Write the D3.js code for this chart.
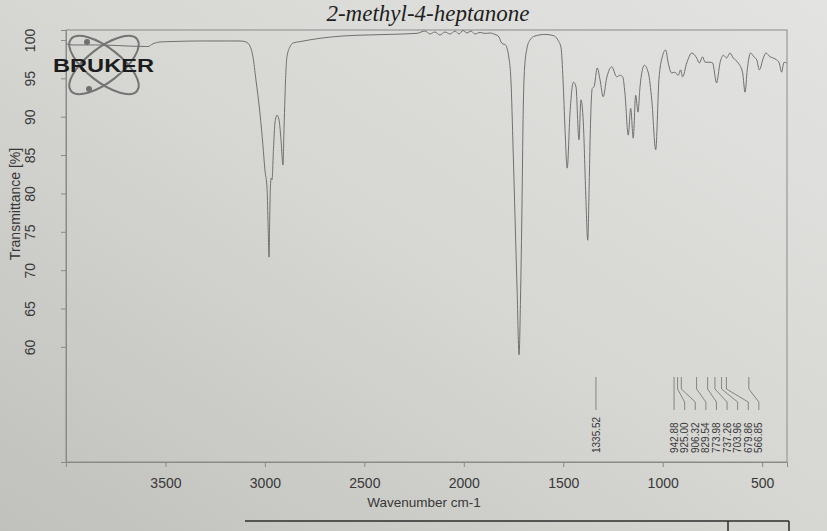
<!DOCTYPE html>
<html><head><meta charset="utf-8">
<script src="https://cdn.jsdelivr.net/npm/d3@7"></script>
<style>html,body{margin:0;padding:0;background:#d6d6d3;} svg{display:block}</style>
</head><body>
<svg id="chart" width="827" height="531"></svg>
<script>
// ---------- data ----------
const chartTitle = "2-methyl-4-heptanone";
const xAxisLabel = "Wavenumber cm-1";
const yAxisLabel = "Transmittance [%]";
const xTickValues = [3500, 3000, 2500, 2000, 1500, 1000, 500];
const yTickValues = [60, 65, 70, 75, 80, 85, 90, 95, 100];
const peakLabels = [1335.52, 942.88, 925.00, 906.32, 829.54, 773.98, 737.26, 703.96, 679.86, 566.85];

const wavenumbers = [
  4000, 3965, 3829, 3678, 3588, 3563, 3527, 3462, 3326, 3201, 3125, 3095, 3075, 3060, 3045, 3025, 3010, 3000,
  2989, 2984, 2979, 2976, 2972, 2968, 2964, 2957, 2949, 2939, 2929, 2919, 2909, 2904, 2899, 2894, 2889, 2874,
  2859, 2824, 2723, 2607, 2487, 2356, 2235, 2195, 2170, 2145, 2120, 2095, 2069, 2044, 2024, 2004, 1984, 1964,
  1944, 1918, 1893, 1868, 1843, 1823, 1813, 1803, 1793, 1783, 1773, 1763, 1752, 1742, 1732, 1722, 1715, 1707,
  1702, 1695, 1682, 1667, 1642, 1592, 1552, 1527, 1511, 1501, 1491, 1480, 1466, 1449, 1436, 1421, 1411, 1399,
  1386, 1377, 1370, 1365, 1354, 1345, 1329, 1315, 1299, 1282, 1256, 1231, 1215, 1201, 1190, 1173, 1161, 1148,
  1136, 1124, 1114, 1092, 1072, 1055, 1035, 1019, 1002, 985, 973, 955, 939, 922, 910, 900, 879, 854,
  829, 816, 799, 787, 762, 749, 729, 712, 695, 678, 662, 645, 620, 598, 586, 575, 558, 541,
  527, 514, 494, 481, 460, 444, 427, 414, 402, 390, 377
];
const transmittance = [
  99.5, 99.35, 99.35, 99.2, 99.15, 99.5, 99.74, 99.8, 99.87, 99.87, 99.87, 99.74, 99.2, 97.8, 94.8, 90.5, 86.3, 83.1,
  80.5, 75.9, 71.7, 76.5, 81.1, 82.0, 81.8, 85.7, 89.3, 90.2, 89.6, 87.0, 83.7, 88.3, 92.6, 96.1, 97.8, 99.1,
  99.6, 99.78, 100.22, 100.52, 100.65, 100.74, 100.87, 101.17, 100.78, 101.04, 100.65, 101.04, 100.78, 101.17, 100.78, 101.24, 100.91, 101.17,
  100.78, 100.98, 100.85, 100.91, 100.72, 100.39, 99.74, 99.48, 99.41, 98.96, 97.65, 94.8, 85.7, 76.5, 67.4, 58.96, 66.1, 79.2,
  89.6, 96.1, 98.96, 100.0, 100.52, 100.72, 100.59, 100.0, 98.96, 94.8, 88.3, 83.3, 90.5, 94.5, 93.9, 87.0, 92.2, 89.2,
  79.2, 73.9, 80.5, 87.0, 93.7, 93.9, 96.35, 94.8, 92.6, 95.0, 96.5, 95.2, 95.4, 95.2, 93.1, 87.6, 91.1, 87.2,
  92.8, 90.6, 93.9, 96.7, 95.7, 92.2, 85.7, 94.8, 97.8, 98.7, 97.1, 95.7, 95.8, 95.4, 96.1, 95.2, 97.0, 98.3,
  97.65, 97.0, 97.8, 97.1, 97.1, 97.0, 94.4, 97.0, 98.0, 97.65, 98.3, 97.65, 97.0, 95.7, 93.2, 96.1, 98.3, 97.8,
  97.4, 96.1, 97.65, 98.3, 97.8, 97.65, 97.4, 97.0, 95.8, 97.1, 97.0
];

// ---------- layout ----------
const W = 827, H = 531;
const svg = d3.select("#chart");

const defs = svg.append("defs");
const grad = defs.append("linearGradient").attr("id", "paper")
  .attr("x1", 0).attr("y1", 1).attr("x2", 1).attr("y2", 0);
grad.append("stop").attr("offset", 0).attr("stop-color", "#c0c0bc");
grad.append("stop").attr("offset", 0.5).attr("stop-color", "#d6d6d3");
grad.append("stop").attr("offset", 1).attr("stop-color", "#e3e3e1");
svg.append("rect").attr("width", W).attr("height", H).attr("fill", "url(#paper)");

const x = d3.scaleLinear().domain([4000, 375]).range([66, 787]);
const y = d3.scaleLinear().domain([45, 101.3]).range([462, 30]);

const axisColor = "#8a8a8a";
const textColor = "#383838";
const sans = "'Liberation Sans', Arial, sans-serif";

// frame
svg.append("rect")
  .attr("x", x.range()[0]).attr("y", y.range()[1])
  .attr("width", x.range()[1] - x.range()[0]).attr("height", y.range()[0] - y.range()[1])
  .attr("fill", "none").attr("stroke", axisColor).attr("stroke-width", 1);

// x axis
const xAxis = svg.append("g").attr("transform", `translate(0,${y.range()[0]})`)
  .call(d3.axisBottom(x).tickValues(xTickValues).tickSize(5).tickPadding(11).tickFormat(d3.format("d")));
xAxis.select(".domain").attr("stroke", axisColor);
xAxis.selectAll(".tick line").attr("stroke", axisColor);
xAxis.selectAll(".tick text").attr("fill", textColor).style("font-family", sans).style("font-size", "14px");

// y axis (rotated tick labels)
const yAxis = svg.append("g").attr("transform", `translate(${x.range()[0]},0)`)
  .call(d3.axisLeft(y).tickValues(yTickValues).tickSize(5).tickFormat(d3.format("d")));
yAxis.select(".domain").attr("stroke", axisColor);
yAxis.selectAll(".tick line").attr("stroke", axisColor);
yAxis.selectAll(".tick text")
  .attr("fill", textColor).style("font-family", sans).style("font-size", "14px")
  .attr("x", null).attr("dy", null)
  .attr("text-anchor", "middle")
  .attr("transform", "translate(-31,0) rotate(-90)");

// axis titles
svg.append("text").attr("x", 424).attr("y", 507).attr("text-anchor", "middle")
  .attr("fill", textColor).style("font-family", sans).style("font-size", "13.5px").text(xAxisLabel);
svg.append("text").attr("transform", "translate(20,204) rotate(-90)").attr("text-anchor", "middle")
  .attr("fill", textColor).style("font-family", sans).style("font-size", "14px").text(yAxisLabel);

// title
svg.append("text").attr("x", 428).attr("y", 21).attr("text-anchor", "middle")
  .attr("fill", "#1e1e1e").style("font-family", "'Liberation Serif', 'DejaVu Serif', serif")
  .style("font-style", "italic").style("font-size", "23px").text(chartTitle);

// Bruker logo
const logo = svg.append("g");
[38, -38].forEach(a => {
  logo.append("ellipse").attr("cx", 104).attr("cy", 65).attr("rx", 42).attr("ry", 17)
    .attr("transform", `rotate(${a},104,65)`)
    .attr("fill", "none").attr("stroke", "#747474").attr("stroke-width", 2);
});
logo.append("circle").attr("cx", 87).attr("cy", 42).attr("r", 3).attr("fill", "#707070");
logo.append("circle").attr("cx", 89).attr("cy", 89).attr("r", 3).attr("fill", "#707070");
logo.append("text").attr("x", 53).attr("y", 72).attr("textLength", 101).attr("lengthAdjust", "spacingAndGlyphs")
  .attr("fill", "#1c1c1c").style("font-family", sans).style("font-weight", "bold").style("font-size", "19px")
  .text("BRUKER");

// spectrum
const pts = wavenumbers.map((w, i) => [w, transmittance[i]]);
const line = d3.line().x(d => x(d[0])).y(d => y(d[1])).curve(d3.curveMonotoneX);
svg.append("path").datum(pts).attr("d", line)
  .attr("fill", "none").attr("stroke", "#707070").attr("stroke-width", 1);

// peak labels
const sorted = peakLabels.slice().sort((a, b) => b - a);
const gap = 10.6;
let prev = -Infinity;
const placed = sorted.map(p => {
  const px = x(p);
  const lx = Math.max(px, prev + gap);
  prev = lx;
  return { p, px, lx };
});
const pk = svg.append("g");
placed.forEach(d => {
  pk.append("path")
    .attr("d", `M${d.px},377 L${d.px},389 L${d.lx},402 L${d.lx},410`)
    .attr("fill", "none").attr("stroke", "#7a7a7a").attr("stroke-width", 0.9);
  pk.append("text")
    .attr("transform", `translate(${d.lx + 3.6},453) rotate(-90)`)
    .attr("fill", textColor).style("font-family", sans).style("font-size", "10px")
    .text(d3.format(".2f")(d.p));
});

// table edge below the chart (part of the printout)
svg.append("path").attr("d", "M245,521 L789,521 M728,521 L728,531 M789,521 L789,531")
  .attr("fill", "none").attr("stroke", "#2e2e2e").attr("stroke-width", 1.5);
</script>
</body></html>
